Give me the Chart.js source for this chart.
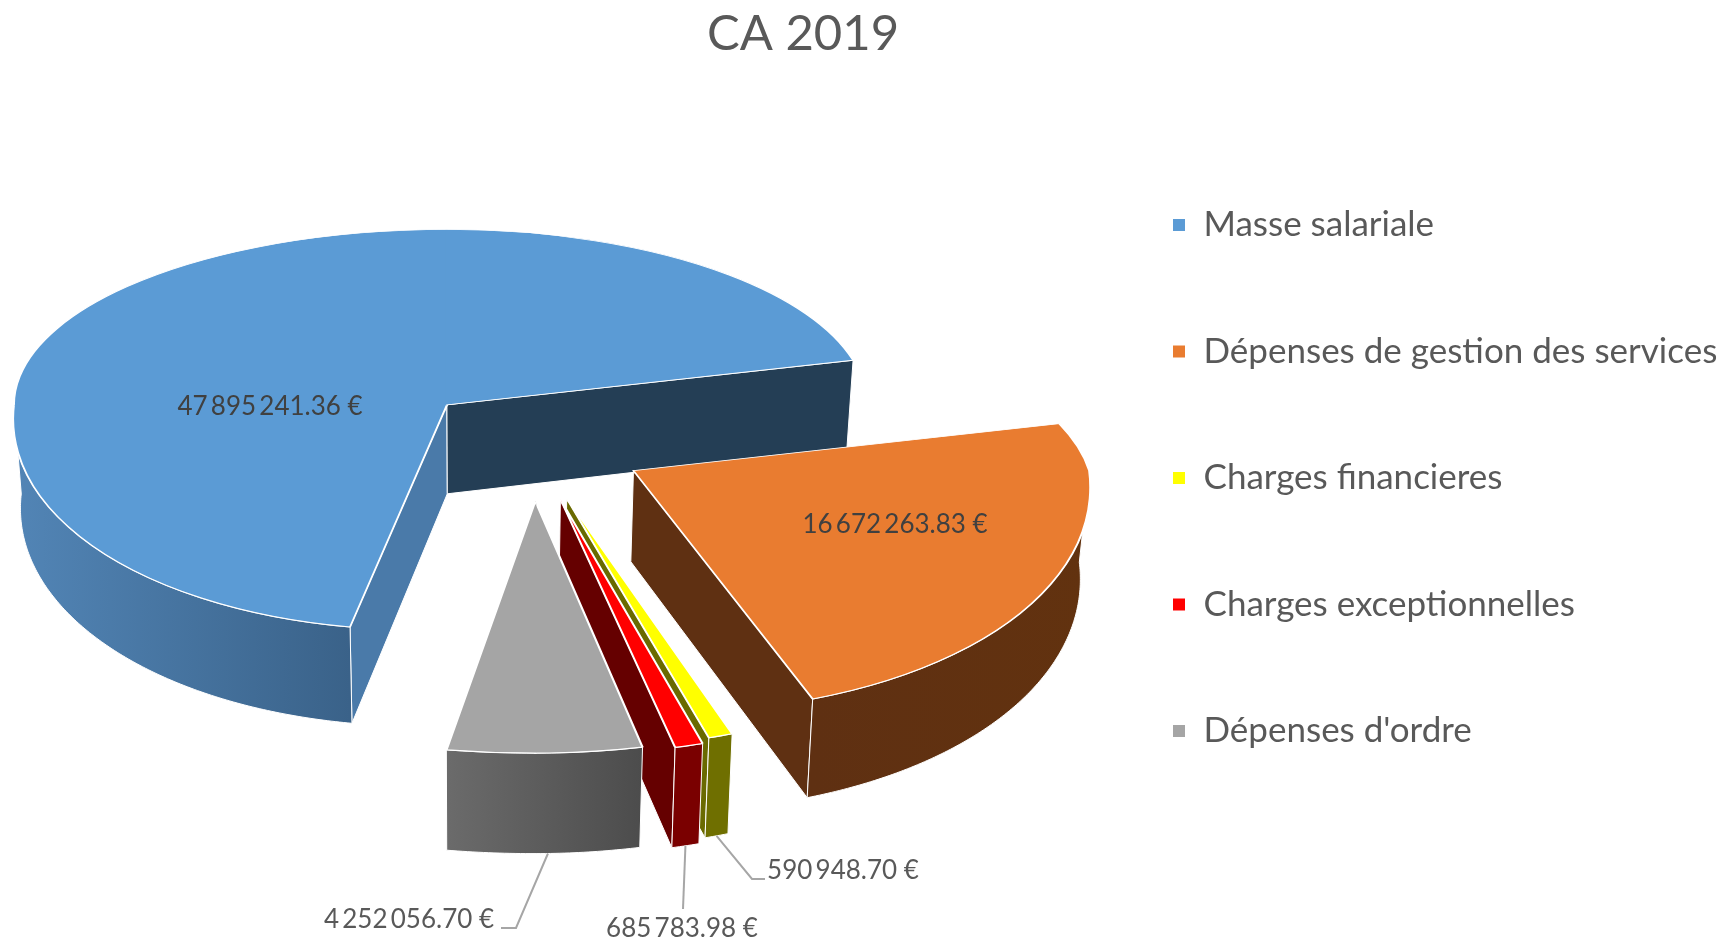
<!DOCTYPE html>
<html>
<head>
<meta charset="utf-8">
<title>CA 2019</title>
<script src="https://cdn.jsdelivr.net/npm/chart.js@4/dist/chart.umd.min.js"></script>
<style>
  html, body { margin: 0; padding: 0; background: #fff; }
  #box { width: 1725px; height: 941px; }
</style>
</head>
<body>
<div id="box"><canvas id="pie3d"></canvas></div>
<script>
// data
const categories = ['Masse salariale', 'Dépenses de gestion des services', 'Charges financieres', 'Charges exceptionnelles', "Dépenses d'ordre"];
const values = [47895241.36, 16672263.83, 590948.70, 685783.98, 4252056.70];

// colours
const topColors = ['#5b9bd5', '#e97c30', '#ffff00', '#ff0000', '#a5a5a5'];
const wallLeft = ['#5285b6', '#5f3012', '#6f6f00', '#7a0000', '#6b6b6b'];
const wallRight = ['#3a6289', '#62320f', '#6f6f00', '#7a0000', '#4c4c4c'];
const startFace = ['#4a7aa9', null, null, null, null];
const endFace = ['#243e55', '#5f3012', '#6a6a00', '#650000', null];

// label placement
const labelPos = [[270, 407], [895, 525], [843, 871], [682, 929], [409, 920]];
const labelColor = ['#404040', '#404040', '#595959', '#595959', '#595959'];
const leaderPts = [null, null, [[752, 879], [765, 879]], [[683, 909]], [[516, 928], [501, 928]]];

// fake 3D view
const PIE_X = 532, PIE_Y = 443.5, RADIUS = 433, EXPLODE = 115;
const TILT_TOP = 0.405, TILT_BOTTOM = 0.52, GROW = 0.0008, REF_Y = 405;
// small per slice corrections, the real picture has perspective and a canvas only does affine
const stretchLeft = [1, 1, 1, 1, 1.18];
const stretchRight = [0.97, 1, 1, 1, 1.06];
const stretchDown = [1, 1.02, 1.03, 1.05, 1.04];
const shearTop = [0, 0.13, 0, 0, 0];
const shearBottom = [-0.063, 0.07, 0.03, 0.03, 0];

function euro(v) {
  const parts = v.toFixed(2).split('.');
  return parts[0].replace(/\B(?=(\d{3})+$)/g, '\u2009') + '.' + parts[1] + ' €';
}

function sliceView(el, i) {
  const mid = (el.startAngle + el.endAngle) / 2;
  const ax = PIE_X + Math.cos(mid) * EXPLODE;
  const ay = PIE_Y + Math.sin(mid) * EXPLODE * 0.5;
  const zoom = 1 + (ay - REF_Y) * GROW;
  return {
    ax, ay, zoom,
    at(t) {
      const dx = Math.cos(t) * el.outerRadius, dy = Math.sin(t) * el.outerRadius;
      const sx = dx < 0 ? stretchLeft[i] : stretchRight[i];
      const k = dy < 0 ? shearTop[i] : shearBottom[i];
      const tilt = dy < 0 ? TILT_TOP : TILT_BOTTOM * stretchDown[i];
      return { x: ax + (dx * sx + dy * k) * zoom, y: ay + dy * zoom * tilt };
    }
  };
}

// foot of the wall under a point on the top face
function foot(p) {
  return { x: p.x + (470 - p.x) * 0.016, y: p.y + 89 + 0.033 * (p.y - REF_Y) };
}

function fillPoly(ctx, pts, fill) {
  ctx.beginPath();
  pts.forEach((p, i) => i ? ctx.lineTo(p.x, p.y) : ctx.moveTo(p.x, p.y));
  ctx.closePath();
  ctx.fillStyle = fill;
  ctx.fill();
  ctx.strokeStyle = '#fff';
  ctx.lineWidth = 1;
  ctx.stroke();
}

function drawWalls(ctx, el, i) {
  const v = sliceView(el, i);
  const apex = { x: v.ax, y: v.ay };
  if (startFace[i] && -Math.cos(el.startAngle) > 0) {
    const p = v.at(el.startAngle);
    fillPoly(ctx, [apex, p, foot(p), foot(apex)], startFace[i]);
  }
  if (endFace[i] && Math.cos(el.endAngle) > 0) {
    const p = v.at(el.endAngle);
    fillPoly(ctx, [apex, p, foot(p), foot(apex)], endFace[i]);
  }
  // outer wall, only the part facing us
  const ts = [];
  const steps = Math.ceil((el.endAngle - el.startAngle) / 0.01);
  for (let k = 0; k <= steps; k++) {
    const t = el.startAngle + (el.endAngle - el.startAngle) * k / steps;
    if (Math.sin(t) >= 0) ts.push(t);
  }
  if (ts.length < 2) return;
  const tops = ts.map(t => v.at(t));
  const feet = tops.map(foot);
  const xs = tops.map(p => p.x);
  const grad = ctx.createLinearGradient(Math.min(...xs), 0, Math.max(...xs), 0);
  grad.addColorStop(0, wallLeft[i]);
  grad.addColorStop(1, wallRight[i]);
  fillPoly(ctx, tops.concat(feet.reverse()), grad);
}

function drawTop(ctx, el, i) {
  const v = sliceView(el, i);
  // each quarter of the disc gets its own transform, that gives the perspective look
  [[1, 1], [-1, 1], [-1, -1], [1, -1]].forEach(([qx, qy]) => {
    const sx = qx < 0 ? stretchLeft[i] : stretchRight[i];
    const k = qy < 0 ? shearTop[i] : shearBottom[i];
    const tilt = qy < 0 ? TILT_TOP : TILT_BOTTOM * stretchDown[i];
    ctx.save();
    ctx.transform(v.zoom * sx, 0, v.zoom * k, v.zoom * tilt, v.ax, v.ay);
    ctx.beginPath();
    ctx.rect(qx > 0 ? -1 : -1200, qy > 0 ? -1 : -1200, 1201, 1201);
    ctx.clip();
    ctx.translate(-el.x, -el.y);
    el.draw(ctx);
    ctx.restore();
  });
}

const pie3dPlugin = {
  id: 'pie3d',
  afterLayout(chart) {
    chart.titleBlock.left = 0;
    chart.titleBlock.right = 1606;
    chart.legend.left = 1172 - chart.legend.options.labels.padding;
    chart.legend.top += 38;
    chart.legend.bottom += 38;
  },
  beforeDatasetsDraw(chart) {
    const ctx = chart.ctx;
    chart.getDatasetMeta(0).data.forEach((el, i) => {
      drawWalls(ctx, el, i);
      drawTop(ctx, el, i);
    });
    return false;
  },
  afterDraw(chart) {
    const ctx = chart.ctx;
    const arcs = chart.getDatasetMeta(0).data;
    ctx.save();
    ctx.font = '26px Lato';
    ctx.textAlign = 'center';
    ctx.textBaseline = 'middle';
    values.forEach((val, i) => {
      if (leaderPts[i]) {
        const el = arcs[i];
        const p = foot(sliceView(el, i).at((el.startAngle + el.endAngle) / 2));
        ctx.beginPath();
        ctx.moveTo(p.x, p.y);
        leaderPts[i].forEach(q => ctx.lineTo(q[0], q[1]));
        ctx.strokeStyle = '#a6a6a6';
        ctx.lineWidth = 2;
        ctx.stroke();
      }
      ctx.fillStyle = labelColor[i];
      ctx.fillText(euro(val), labelPos[i][0], labelPos[i][1]);
    });
    ctx.restore();
  }
};

new Chart(document.getElementById('pie3d'), {
  type: 'pie',
  data: {
    labels: categories,
    datasets: [{
      data: values,
      backgroundColor: topColors,
      borderColor: '#fff',
      borderWidth: 2,
      rotation: 189.3,
      radius: RADIUS
    }]
  },
  options: {
    responsive: true,
    maintainAspectRatio: false,
    animation: false,
    events: [],
    layout: { padding: { bottom: 61 } },
    plugins: {
      tooltip: { enabled: false },
      title: {
        display: true,
        text: 'CA 2019',
        color: '#595959',
        font: { family: 'Lato', size: 49, weight: 'normal' },
        padding: { top: 5, bottom: 0 }
      },
      legend: {
        position: 'right',
        labels: {
          color: '#595959',
          font: { family: 'Lato', size: 35 },
          boxWidth: 14,
          boxHeight: 14,
          padding: 91.5
        }
      }
    }
  },
  plugins: [pie3dPlugin]
});
</script>
</body>
</html>
